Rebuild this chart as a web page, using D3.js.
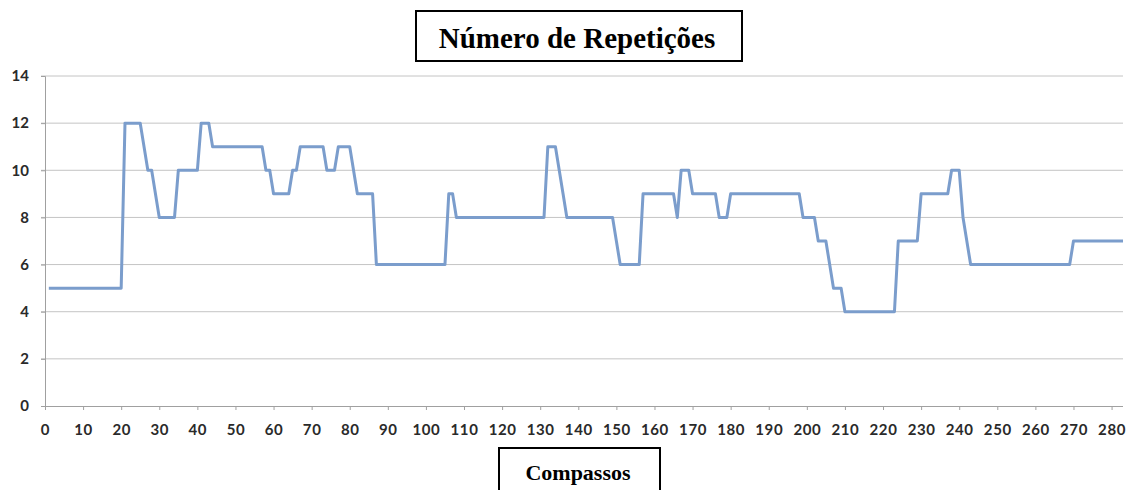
<!DOCTYPE html>
<html>
<head>
<meta charset="utf-8">
<script src="https://cdn.jsdelivr.net/npm/d3@7"></script>
<style>
	body { margin: 0; background: #fff; }
</style>
</head>
<body>
<script>

// Line vertices (compasso, repeticoes).
let compassos = [1, 20, 21, 25, 27, 28, 30, 34, 35, 40, 41, 43, 44, 57, 58, 59, 60, 64, 65, 66, 67, 73, 74, 76, 77, 80, 82, 86, 87, 105, 106, 107, 108, 131, 132, 134, 135, 136, 137, 149, 150, 151, 156, 157, 165, 166, 167, 169, 170, 176, 177, 179, 180, 198, 199, 202, 203, 205, 206, 207, 209, 210, 223, 224, 229, 230, 237, 238, 240, 241, 243, 269, 270, 283];
let repeticoes = [5, 5, 12, 12, 10, 10, 8, 8, 10, 10, 12, 12, 11, 11, 10, 10, 9, 9, 10, 10, 11, 11, 10, 10, 11, 11, 9, 9, 6, 6, 9, 9, 8, 8, 11, 11, 10, 9, 8, 8, 7, 6, 6, 9, 9, 8, 10, 10, 9, 9, 8, 8, 9, 9, 8, 8, 7, 7, 6, 5, 5, 4, 4, 7, 7, 9, 9, 10, 10, 8, 6, 6, 7, 7];

let xTicks = d3.range(0, 281, 10);   // 0, 10, ... 280
let yTicks = [0, 2, 4, 6, 8, 10, 12, 14];

let titulo = 'Número de Repetições';
let tituloX = 'Compassos';

let w = 1128;
let h = 490;

let svg = d3.select('body')
			.append('svg')
			.attr('width', w)
			.attr('height', h)
			.style('font-family', '"Liberation Serif", "DejaVu Serif", serif');

let xScale = d3.scaleLinear()
			   .domain([0, 283])
			   .range([45, 1123]);

let yScale = d3.scaleLinear()
			   .domain([0, 14])
			   .range([406, 76]);

// gridlines (horizontal only, like Excel)
svg.append('g')
   .selectAll('line')
   .data(yTicks.filter(d => d > 0))
   .enter()
   .append('line')
   .attr('x1', xScale(0) - 4)
   .attr('x2', xScale(283))
   .attr('y1', d => yScale(d))
   .attr('y2', d => yScale(d))
   .attr('stroke', '#c4c4c4')
   .attr('stroke-width', 1);

// Y axis
let yAxis = d3.axisLeft(yScale)
			  .tickValues(yTicks)
			  .tickSize(4)
			  .tickPadding(12);

let gy = svg.append('g')
			.attr('transform', 'translate(' + xScale(0) + ',0)')
			.call(yAxis);

// X axis
let xAxis = d3.axisBottom(xScale)
			  .tickValues(xTicks)
			  .tickSize(4)
			  .tickPadding(14)
			  .tickSizeOuter(0);

let gx = svg.append('g')
			.attr('transform', 'translate(0,' + yScale(0) + ')')
			.call(xAxis);

gx.select('.domain').attr('d', 'M' + (xScale(0) - 4) + ',0.5H' + xScale(283));

[gx, gy].forEach(g => {
	g.select('.domain').attr('stroke', '#a0a0a0');
	g.selectAll('.tick line').attr('stroke', '#a0a0a0');
	g.selectAll('.tick text')
	 .attr('fill', '#2a2a2a')
	 .style('font-size', '15px')
	 .style('font-weight', 'bold')
	 .style('font-family', 'Lato, "Open Sans", sans-serif');
});

gx.selectAll('.tick text').style('letter-spacing', '0.6px');

// the series
let line = d3.line()
			 .x((d, i) => xScale(compassos[i]))
			 .y(d => yScale(d));

svg.append('path')
   .datum(repeticoes)
   .attr('d', line)
   .attr('fill', 'none')
   .attr('stroke', '#7b9dcc')
   .attr('stroke-width', 3)
   .attr('stroke-linejoin', 'round');

// title box
svg.append('rect')
   .attr('x', 416)
   .attr('y', 11)
   .attr('width', 326)
   .attr('height', 50)
   .attr('fill', '#fff')
   .attr('stroke', '#000')
   .attr('stroke-width', 2);

svg.append('text')
   .attr('x', 577)
   .attr('y', 48)
   .attr('text-anchor', 'middle')
   .style('font-size', '29px')
   .style('font-weight', 'bold')
   .text(titulo);

// x-axis title box (bottom edge runs off the picture)
svg.append('rect')
   .attr('x', 499)
   .attr('y', 448)
   .attr('width', 161)
   .attr('height', 60)
   .attr('fill', '#fff')
   .attr('stroke', '#000')
   .attr('stroke-width', 2);

svg.append('text')
   .attr('x', 578)
   .attr('y', 480)
   .attr('text-anchor', 'middle')
   .style('font-size', '22px')
   .style('font-weight', 'bold')
   .text(tituloX);

</script>
</body>
</html>
